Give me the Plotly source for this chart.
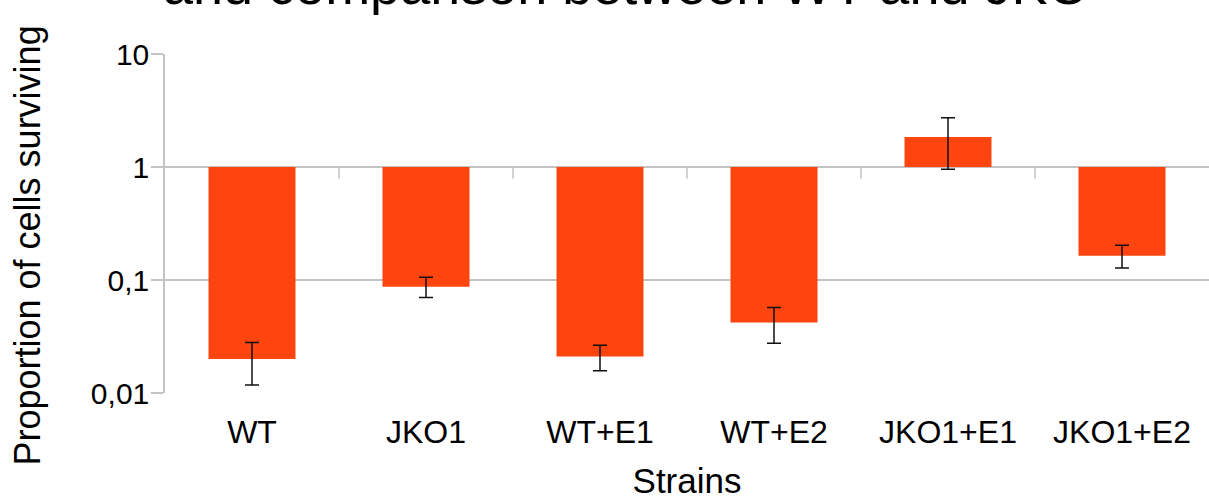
import plotly.graph_objects as go

# Survival data per strain (proportion of cells surviving, relative to 1)
strains = ["WT", "JKO1", "WT+E1", "WT+E2", "JKO1+E1", "JKO1+E2"]
survival = [0.020, 0.087, 0.021, 0.042, 1.84, 0.164]
upper = [0.028, 0.106, 0.0265, 0.057, 2.73, 0.203]
lower = [0.0118, 0.070, 0.0157, 0.0275, 0.954, 0.128]

y_tick_vals = [0.01, 0.1, 1, 10]
y_tick_text = ["0,01", "0,1", "1", "10"]

FONT = "Liberation Sans, Arial, sans-serif"
GRID = "#c3c3c3"
BAR = "#ff450f"

fig = go.Figure()

# Bars grow from the reference level 1 up or down
fig.add_trace(go.Bar(
    x=strains,
    y=[v - 1 for v in survival],
    base=1,
    width=0.5,
    marker=dict(color=BAR, line=dict(width=0)),
    hoverinfo="skip",
))

# Asymmetric error bars drawn at each bar's value
fig.add_trace(go.Scatter(
    x=strains,
    y=survival,
    mode="markers",
    marker=dict(size=1, opacity=0),
    error_y=dict(
        type="data",
        symmetric=False,
        array=[u - v for u, v in zip(upper, survival)],
        arrayminus=[v - l for v, l in zip(survival, lower)],
        color="#111111",
        thickness=1.5,
        width=7,
    ),
    hoverinfo="skip",
))

# Category separator ticks hanging from the axis line at 1
shapes = []
for i in range(len(strains) - 1):
    shapes.append(dict(
        type="line", xref="x", yref="y",
        x0=i + 0.5, x1=i + 0.5, y0=1, y1=0.79,
        line=dict(color=GRID, width=1.5),
    ))

fig.update_layout(
    width=1209,
    height=500,
    margin=dict(l=165, r=0, t=54, b=107),
    paper_bgcolor="white",
    plot_bgcolor="white",
    showlegend=False,
    font=dict(family=FONT, color="#000000", size=29),
    shapes=shapes,
    annotations=[
        dict(
            text="and comparison between WT and JKO",
            xref="paper", yref="paper", x=0.442, y=1,
            xanchor="center", yanchor="bottom", yshift=37,
            showarrow=False,
            font=dict(family=FONT, size=54, color="#000000"),
        ),
        dict(
            text="Proportion of cells surviving",
            xref="paper", yref="paper", x=0, y=0.435,
            xanchor="center", yanchor="middle", xshift=-137,
            textangle=-90,
            showarrow=False,
            font=dict(family=FONT, size=36, color="#000000"),
        ),
    ],
    xaxis=dict(
        type="category",
        showgrid=False,
        showline=False,
        zeroline=False,
        ticks="",
        ticklabelstandoff=17,
        tickfont=dict(size=32),
        title=dict(text="Strains", font=dict(size=35), standoff=25),
    ),
    yaxis=dict(
        type="log",
        range=[-2, 1],
        tickvals=y_tick_vals,
        ticktext=y_tick_text,
        showgrid=True,
        gridcolor=GRID,
        gridwidth=1.5,
        showline=True,
        linecolor=GRID,
        linewidth=1.5,
        ticks="outside",
        ticklen=12,
        tickcolor=GRID,
        tickwidth=1.5,
        ticklabelstandoff=-4,
        tickfont=dict(size=30),
        zeroline=False,
    ),
)

fig.write_html("out.html")
